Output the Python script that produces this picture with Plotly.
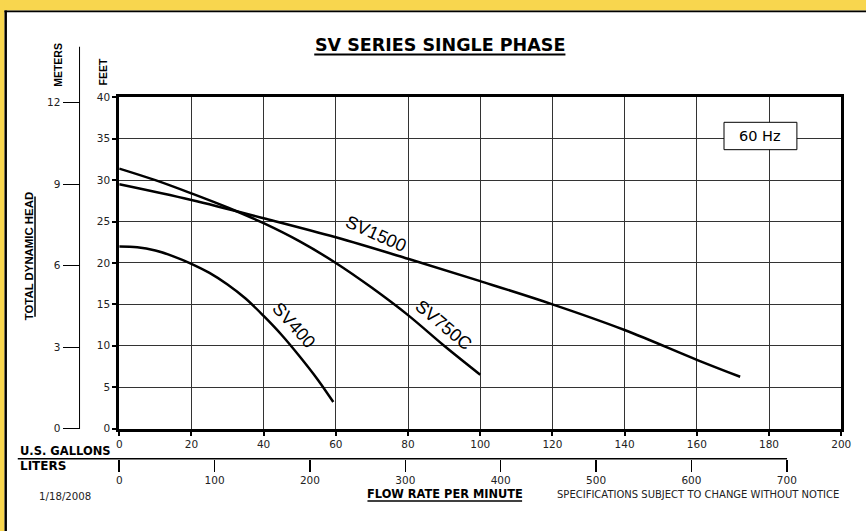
import plotly.graph_objects as go

# ---------------- data ----------------
sv400_gpm = [0, 5, 10, 15, 20, 25, 30, 35, 40, 45, 50, 55, 59.3]
sv400_ft = [22.0, 21.9, 21.5, 20.8, 19.9, 18.8, 17.4, 15.7, 13.6, 11.3, 8.7, 5.9, 3.2]

sv750c_gpm = [0, 10, 20, 30, 40, 50, 60, 70, 80, 90, 100]
sv750c_ft = [31.4, 30.0, 28.4, 26.7, 24.8, 22.6, 20.0, 17.0, 13.7, 10.0, 6.5]

sv1500_gpm = [0, 20, 40, 60, 80, 100, 120, 140, 160, 172]
sv1500_ft = [29.5, 27.6, 25.4, 23.1, 20.5, 17.8, 15.0, 11.9, 8.3, 6.25]

gallon_ticks = [0, 20, 40, 60, 80, 100, 120, 140, 160, 180, 200]
feet_ticks = [0, 5, 10, 15, 20, 25, 30, 35, 40]
meter_ticks = [0, 3, 6, 9, 12]
liter_ticks = [0, 100, 200, 300, 400, 500, 600, 700]

FT_PER_M = 3.28084
L_PER_GAL = 3.78541

# ---------------- geometry helpers (pixel -> paper) ----------------
W, H = 866, 531


def px(x):
    return x / W


def py(y):
    return 1 - y / H


TICKFONT = dict(family="DejaVu Sans, Arial, sans-serif", size=10.5, color="#222")

fig = go.Figure()
for xs, ys in [(sv400_gpm, sv400_ft), (sv750c_gpm, sv750c_ft), (sv1500_gpm, sv1500_ft)]:
    fig.add_trace(go.Scatter(x=xs, y=ys, mode="lines",
                             line=dict(color="black", width=2.5, shape="spline", smoothing=1),
                             hoverinfo="skip", showlegend=False))
# invisible trace to realise the secondary (meters / liters) axes
fig.add_trace(go.Scatter(x=[None], y=[None], xaxis="x2", yaxis="y2",
                         hoverinfo="skip", showlegend=False))

axis_common = dict(showgrid=True, gridcolor="#333", gridwidth=1, showline=True,
                   linecolor="black", linewidth=3, mirror=True, ticks="outside",
                   ticklen=4, tickwidth=2, tickcolor="black", tickfont=TICKFONT,
                   zeroline=False, fixedrange=True)

fig.update_layout(
    width=W, height=H, autosize=False,
    margin=dict(l=0, r=0, t=0, b=0),
    paper_bgcolor="white", plot_bgcolor="white",
    showlegend=False,
    xaxis=dict(domain=[px(118), px(851)], range=[0, 200], tickvals=gallon_ticks,
               anchor="y", **axis_common),
    yaxis=dict(domain=[py(432.3), py(93.5)], range=[0, 40], tickvals=feet_ticks,
               anchor="x", **axis_common),
    yaxis2=dict(overlaying="y", anchor="free", position=px(77.7), side="left",
                range=[0, 40 / FT_PER_M], tickvals=meter_ticks, ticks="outside",
                ticklen=17, tickwidth=1, tickcolor="black", tickfont=TICKFONT,
                showgrid=False, showline=False, zeroline=False, fixedrange=True),
    xaxis2=dict(overlaying="x", anchor="free", position=py(463.3), side="bottom",
                range=[0, 200 * L_PER_GAL], tickvals=liter_ticks, ticks="outside",
                ticklen=12, tickwidth=1.5, tickcolor="black", tickfont=TICKFONT,
                showgrid=False, showline=False, zeroline=False, fixedrange=True),
)

YELLOW = "#F8D64E"
shapes = [
    # yellow frame (top and left) with inner black line
    dict(type="rect", xref="paper", yref="paper", x0=px(-10), x1=1.05, y0=py(4.5), y1=py(-10),
         fillcolor=YELLOW, line=dict(width=0), layer="above"),
    dict(type="rect", xref="paper", yref="paper", x0=px(-10), x1=px(1.5), y0=-0.05, y1=py(-10),
         fillcolor=YELLOW, line=dict(width=0), layer="above"),
    dict(type="rect", xref="paper", yref="paper", x0=px(1.5), x1=1.05, y0=py(6.5), y1=py(4.5),
         fillcolor="black", line=dict(width=0), layer="above"),
    dict(type="rect", xref="paper", yref="paper", x0=px(1.5), x1=px(4), y0=-0.05, y1=py(4.5),
         fillcolor="black", line=dict(width=0), layer="above"),
    # meters axis spine
    dict(type="line", xref="paper", yref="paper", x0=px(77.7), x1=px(77.7),
         y0=py(432.8), y1=py(41.7), line=dict(color="black", width=1)),
    # gallons / liters separator
    dict(type="line", xref="paper", yref="paper", x0=px(15), x1=px(796),
         y0=py(463.3), y1=py(463.3), line=dict(color="black", width=1.5)),
    # underlines
    dict(type="line", xref="paper", yref="paper", x0=px(316), x1=px(571),
         y0=py(49.5), y1=py(49.5), line=dict(color="black", width=2)),
    dict(type="line", xref="paper", yref="paper", x0=px(370), x1=px(527),
         y0=py(506.5), y1=py(506.5), line=dict(color="black", width=1.5)),
    dict(type="line", xref="paper", yref="paper", x0=px(32.5), x1=px(32.5),
         y0=py(318), y1=py(195), line=dict(color="black", width=1.5)),
    # 60 Hz box
    dict(type="rect", xref="paper", yref="paper", x0=px(732), x1=px(806),
         y0=py(147), y1=py(119), fillcolor="white", line=dict(color="black", width=1),
         layer="above"),
]
fig.update_layout(shapes=shapes)

HFONT = "DejaVu Sans, Arial, sans-serif"
VFONT = "Liberation Sans, Arial, sans-serif"
NARROW = "Liberation Sans, Arial, sans-serif"


def note(text, x, y, size, family=HFONT, xanchor="center", angle=0, color="black", ref="paper"):
    if ref == "paper":
        xx, yy = px(x), py(y)
    else:
        xx, yy = x, y
    fig.add_annotation(text=text, x=xx, y=yy, xref="paper" if ref == "paper" else "x",
                       yref="paper" if ref == "paper" else "y",
                       xanchor=xanchor, yanchor="middle", showarrow=False,
                       textangle=angle, font=dict(family=family, size=size, color=color))


note("<b>SV SERIES SINGLE PHASE</b>", 443.5, 39.5, 17.5)
note("<b>METERS</b>", 55, 60, 10.5, family=VFONT, angle=-90)
note("<b>FEET</b>", 102, 67.5, 10.5, family=VFONT, angle=-90)
note("<b>TOTAL DYNAMIC HEAD</b>", 26, 256.5, 11.4, family=VFONT, angle=-90)
note("<b>U.S. GALLONS</b>", 15, 455, 11.5, xanchor="left")
note("<b>LITERS</b>", 15, 471, 12, xanchor="left")
note("1/18/2008", 63, 501.5, 10.2, color="#222")
note("<b>FLOW RATE PER MINUTE</b>", 448.5, 499, 11.4)
note("SPECIFICATIONS SUBJECT TO CHANGE WITHOUT NOTICE", 706, 500, 10, color="#222")
note("60 Hz", 769, 133, 14.5)

# curve labels (data coordinates)
note("SV1500", 71.2, 23.5, 18, family=NARROW, angle=24, ref="data")
note("SV750C", 89.8, 12.5, 18, family=NARROW, angle=40, ref="data")
note("SV400", 48.3, 12.5, 18, family=NARROW, angle=48, ref="data")

fig.write_html(
    "out.html",
    config={"displayModeBar": False, "staticPlot": True},
    post_script="document.body.style.margin='0';document.body.style.padding='0';"
                "document.documentElement.style.overflow='hidden';",
)
